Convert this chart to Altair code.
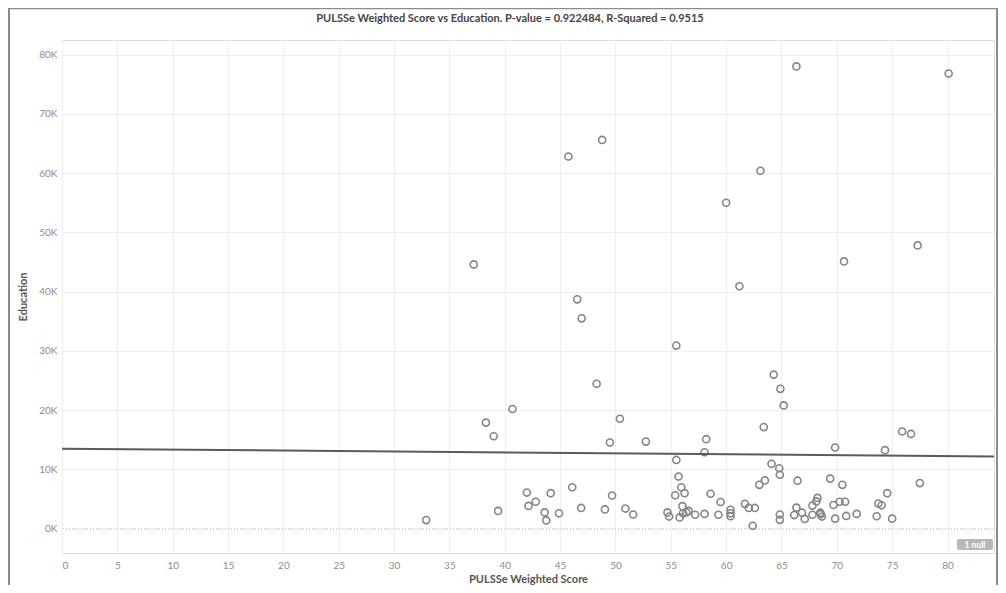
import altair as alt
import pandas as pd

# PULSSe Weighted Score (x) and Education (y)
score = [32.9, 38.3, 39.0, 40.7, 39.4, 37.2, 42.0, 42.15, 42.8, 43.6, 43.75, 44.15, 44.9,
         46.1, 46.9, 45.75, 46.55, 46.95, 48.8, 48.3, 49.05, 49.5, 49.7, 50.4, 50.9, 51.6,
         52.75, 54.7, 54.85, 55.5, 55.5, 55.7, 55.95, 55.4, 56.25, 56.05, 55.8, 56.1, 56.4,
         56.6, 57.2, 58.05, 58.2, 58.05, 58.6, 59.3, 59.5, 60.4, 60.4, 60.4, 60.0, 61.2,
         61.7, 62.05, 62.6, 62.4, 63.0, 63.1, 63.4, 63.5, 64.1, 64.3, 64.9, 65.2, 64.8,
         64.85, 64.85, 64.85, 66.35, 66.15, 66.35, 66.45, 66.85, 67.1, 67.8, 67.8, 68.15,
         68.25, 68.5, 68.65, 69.4, 69.7, 69.85, 69.85, 70.25, 70.5, 70.75, 70.65, 70.85,
         71.8, 73.6, 73.75, 74.05, 74.35, 74.55, 75.0, 75.9, 76.7, 77.3, 77.5, 80.1, 68.55]
education = [1450, 17900, 15600, 20200, 3000, 44600, 6100, 3850, 4550, 2750, 1400, 6000, 2600,
             7000, 3500, 62800, 38700, 35500, 65600, 24450, 3250, 14550, 5600, 18550, 3400, 2400,
             14700, 2750, 2050, 11600, 30900, 8800, 7000, 5650, 6000, 3800, 1900, 2600, 2750,
             3000, 2350, 2500, 15100, 12900, 5900, 2350, 4500, 3200, 2600, 2100, 55000, 40900,
             4200, 3500, 3500, 500, 7400, 60400, 17150, 8150, 10950, 26000, 23600, 20800, 10200,
             9100, 2400, 1500, 78000, 2300, 3550, 8100, 2700, 1650, 3900, 2350, 4600,
             5200, 2700, 2050, 8450, 4000, 13700, 1700, 4550, 7400, 4550, 45100, 2150,
             2500, 2100, 4250, 3950, 13250, 6000, 1700, 16400, 16000, 47800, 7700, 76800, 2450]

# trend line (linear fit) end points
trend_x = [0, 84.2]
trend_y = [13500, 12200]

x_ticks = [0, 5, 10, 15, 20, 25, 30, 35, 40, 45, 50, 55, 60, 65, 70, 75, 80]
y_ticks = [0, 10000, 20000, 30000, 40000, 50000, 60000, 70000, 80000]

title_text = ["PULSSe Weighted Score vs Education. P-value = 0.922484, R-Squared = 0.9515"]
null_label = ["1 null"]

W, H = 932, 513
FONT = "Lato"

df = pd.DataFrame({"score": score, "education": education})
trend = pd.DataFrame({"score": trend_x, "education": trend_y})

xscale = alt.Scale(domain=[0, 84.2], nice=False, zero=False)
yscale = alt.Scale(domain=[-4100, 82460], nice=False, zero=False)

x_axis = alt.Axis(values=x_ticks, title="PULSSe Weighted Score", grid=True,
                  gridColor="#efefef", ticks=False, domain=False, labelFlush=True,
                  labelColor="#8c8c8c", labelFontSize=10, labelPadding=7,
                  titleFontSize=11, titleFontWeight="bold", titleColor="#555555",
                  titlePadding=3, labelFont=FONT, titleFont=FONT)
y_axis = alt.Axis(values=y_ticks, title="Education", grid=True, gridColor="#efefef",
                  ticks=False, domain=False, labelFlush=False,
                  labelExpr="format(datum.value / 1000, 'd') + 'K'",
                  labelColor="#8c8c8c", labelFontSize=10, labelPadding=5,
                  titleFontSize=11, titleFontWeight="bold", titleColor="#555555",
                  titlePadding=10, labelFont=FONT, titleFont=FONT)

base = alt.Chart(df)

points = base.mark_point(shape="circle", filled=False, size=50, strokeWidth=1.6,
                         color="#858585", opacity=1).encode(
    x=alt.X("score:Q", scale=xscale, axis=x_axis),
    y=alt.Y("education:Q", scale=yscale, axis=y_axis),
)

zero_rule = alt.Chart(pd.DataFrame({"z": [0]})).mark_rule(
    color="#c4c4c4", strokeDash=[1, 2], strokeWidth=1).encode(
    y=alt.Y("z:Q", scale=yscale))

line = alt.Chart(trend).mark_line(color="#5a5a5a", strokeWidth=2).encode(
    x=alt.X("score:Q", scale=xscale),
    y=alt.Y("education:Q", scale=yscale),
)

title_df = pd.DataFrame({"t": title_text})
title = alt.Chart(title_df).mark_text(color="#444444", fontSize=11, fontWeight="bold",
                                      font=FONT, align="center", baseline="middle").encode(
    x=alt.value(448), y=alt.value(-21), text="t:N")

badge_df = pd.DataFrame({"t": null_label})
badge = alt.Chart(badge_df).mark_rect(color="#b8b8b8", cornerRadius=2).encode(
    x=alt.value(895), x2=alt.value(931), y=alt.value(499), y2=alt.value(510))
badge_text = alt.Chart(badge_df).mark_text(color="white", fontSize=8.5, fontWeight="bold",
                                           font=FONT).encode(
    x=alt.value(913), y=alt.value(505), text="t:N")

frame_l = alt.Chart(badge_df).mark_rule(color="#8c8c8c", strokeWidth=2).encode(
    x=alt.value(-53), y=alt.value(-32), y2=alt.value(H + 40))
frame_t = alt.Chart(badge_df).mark_rule(color="#8c8c8c", strokeWidth=1.5).encode(
    x=alt.value(-53), x2=alt.value(W + 3), y=alt.value(-31.5))
frame_r = alt.Chart(badge_df).mark_rule(color="#8c8c8c", strokeWidth=2).encode(
    x=alt.value(W + 3), y=alt.value(-32), y2=alt.value(H + 40))

chart = alt.layer(zero_rule, points, line, title, badge, badge_text,
                  frame_l, frame_t, frame_r).properties(
    width=W, height=H,
    autosize=alt.AutoSizeParams(type="none"),
    padding={"left": 54, "top": 32, "right": 4, "bottom": 32},
).configure_view(stroke=None).configure(background="white")

chart.save("out.html", embed_options={"renderer": "svg", "actions": False})
